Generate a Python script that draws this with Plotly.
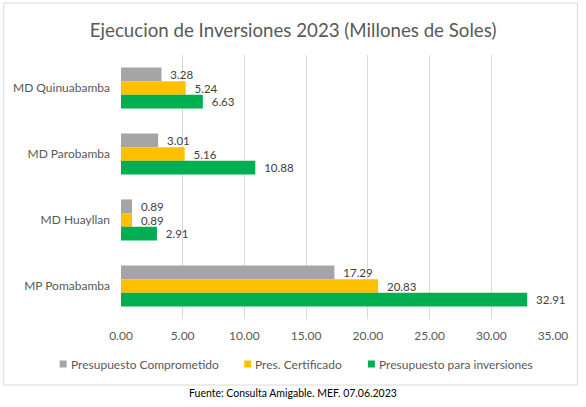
import plotly.graph_objects as go

# categories top to bottom
districts = ["MD Quinuabamba", "MD Parobamba", "MD Huayllan", "MP Pomabamba"]
comprometido = [3.28, 3.01, 0.89, 17.29]
certificado = [5.24, 5.16, 0.89, 20.83]
inversiones = [6.63, 10.88, 2.91, 32.91]
x_ticks = [0, 5, 10, 15, 20, 25, 30, 35]

FONT = "Lato, 'Open Sans', sans-serif"
W, H = 586, 407
L, R, T, B = 120.5, 32.5, 55, 88
pw, ph = W - L - R, H - T - B


def px_x(x):
    # page pixel -> paper x
    return (x - L) / pw


def px_y(y):
    # page pixel (from top) -> paper y
    return (H - B - y) / ph


series = [
    ("Presupuesto Comprometido", comprometido, "#A5A5A5"),
    ("Pres. Certificado", certificado, "#FFC000"),
    ("Presupuesto para inversiones", inversiones, "#00B050"),
]
# legend square left edge, in page pixels
legend_x = [59, 244, 368]
legend_y = 364

fig = go.Figure()
for name, vals, color in series:
    fig.add_trace(
        go.Bar(
            y=districts,
            x=vals,
            name=name,
            orientation="h",
            marker=dict(color=color, line=dict(width=0)),
            texttemplate="  %{x:.2f}",
            textposition="outside",
            textfont=dict(size=11.5, color="#404040", family=FONT),
            cliponaxis=False,
            constraintext="none",
            showlegend=False,
        )
    )

# legend drawn by hand (small squares like the original)
for (name, _, color), lx in zip(series, legend_x):
    fig.add_shape(
        type="rect", xref="paper", yref="paper",
        x0=px_x(lx), x1=px_x(lx + 7),
        y0=px_y(legend_y + 3.5), y1=px_y(legend_y - 3.5),
        fillcolor=color, line=dict(width=0),
    )
    fig.add_annotation(
        text=name, xref="paper", yref="paper",
        x=px_x(lx + 9), y=px_y(legend_y),
        xanchor="left", yanchor="middle", showarrow=False,
        font=dict(size=12, color="#595959", family=FONT),
    )

# chart-area border
fig.add_shape(
    type="rect",
    xref="paper", yref="paper",
    x0=px_x(3), x1=px_x(578),
    y0=px_y(385), y1=px_y(3),
    line=dict(color="#D9D9D9", width=1),
    layer="below",
)

fig.add_annotation(
    text="Fuente: Consulta Amigable. MEF. 07.06.2023",
    xref="paper", yref="paper",
    x=px_x(293), y=px_y(393),
    xanchor="center", yanchor="middle",
    showarrow=False,
    font=dict(size=10.5, color="#000000", family=FONT),
)

fig.update_layout(
    width=W,
    height=H,
    margin=dict(l=L, r=R, t=T, b=B),
    paper_bgcolor="white",
    plot_bgcolor="white",
    font=dict(family=FONT, size=12, color="#595959"),
    title=dict(
        text="Ejecucion de Inversiones 2023 (Millones de Soles)",
        x=px_x(293), xref="paper", xanchor="center",
        y=1 - 30 / H, yref="container", yanchor="middle",
        font=dict(size=18.7, color="#595959", family=FONT),
    ),
    barmode="group",
    bargap=0.376,
    bargroupgap=0,
    showlegend=False,
)

fig.update_xaxes(
    range=[0, 35],
    tickvals=x_ticks,
    tickformat=".2f",
    showgrid=True,
    gridcolor="#D9D9D9",
    gridwidth=1,
    zeroline=False,
    showline=False,
    automargin=False,
    ticklabelstandoff=8,
    tickfont=dict(size=12, color="#595959"),
)
fig.update_yaxes(
    categoryorder="array",
    categoryarray=districts,
    autorange="reversed",
    showgrid=False,
    showline=False,
    automargin=False,
    ticklabelstandoff=10,
    tickfont=dict(size=12, color="#595959"),
)

# the page body has a default 8px margin; drop it so the figure fills the window
fig.write_html(
    "out.html",
    config={"displayModeBar": False},
    post_script="document.body.style.margin='0px';",
)
